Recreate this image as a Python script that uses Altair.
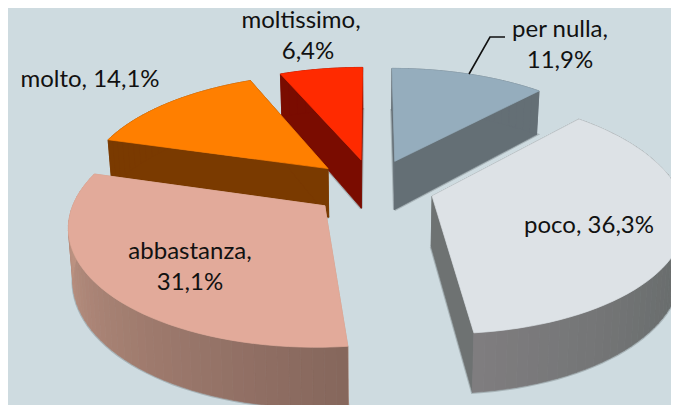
import math
import altair as alt
import pandas as pd

# Chart values
categories = ["per nulla", "poco", "abbastanza", "molto", "moltissimo"]
shares = [11.9, 36.3, 31.1, 14.1, 6.4]
top_colors = ["#95adbd", "#dde2e6", "#e2aa9a", "#ff7f00", "#ff2a00"]
cut_colors = ["#646f75", "#6e7272", "#c89c8a", "#7a3a00", "#7a0c00"]
# rim colour at the slice's start angle and at its end angle
rim_start = ["#646f75", "#6a6e6e", "#85665c", "#7a3a00", "#7a0c00"]
rim_end = ["#646f75", "#7f7d7f", "#c89c8a", "#7a3a00", "#7a0c00"]
draw_order = [4, 0, 3, 1, 2]

labels = [
    ("moltissimo,", 301, 21), ("6,4%", 308, 52),
    ("per nulla,", 560, 30), ("11,9%", 560, 61),
    ("molto, 14,1%", 90, 80),
    ("poco, 36,3%", 589, 226),
    ("abbastanza,", 190, 252), ("31,1%", 190, 283),
]
leader_x = [469, 490, 505]
leader_y = [74, 37, 37]

# Pseudo-3D projection settings (pixels of the reference picture)
CX, CY, A, B, K, DEPTH, EXPLODE, BASE = 373, 187, 246, 114, 0.15, 50, 0.25, 0.985
BACKGROUND = "#cedbe0"
SHADOW = "#a8b4b8"


def project(X, Y, bottom=False):
    s = 1 / (1 - K * Y)
    x = A * X * s
    y = CY + B * Y * s
    if bottom:
        return CX + x * BASE, y + DEPTH * s
    return CX + x, y


def mix(c1, c2, t):
    a = [int(c1[i:i + 2], 16) for i in (1, 3, 5)]
    b = [int(c2[i:i + 2], 16) for i in (1, 3, 5)]
    return "#" + "".join(f"{round(p + (q - p) * t):02x}" for p, q in zip(a, b))


rows = []
shadow_rows = []
poly_id = 0


def add(points, color, target=None):
    global poly_id
    poly_id += 1
    target = rows if target is None else target
    for n, (x, y) in enumerate(points + points[:1]):
        target.append({"poly": poly_id, "n": n, "x": x, "y": y, "c": color})


starts = []
total = 0.0
for v in shares:
    starts.append(total)
    total += v
total = sum(shares)

for i in draw_order:
    a0 = starts[i] / total * 2 * math.pi
    a1 = (starts[i] + shares[i]) / total * 2 * math.pi
    mid = (a0 + a1) / 2
    ox, oy = EXPLODE * math.sin(mid), -EXPLODE * math.cos(mid)
    steps = max(4, int(shares[i] * 1.6))
    ground = [(ox + math.sin(a0 + (a1 - a0) * k / steps),
               oy - math.cos(a0 + (a1 - a0) * k / steps)) for k in range(steps + 1)]
    apex = (ox, oy)
    add([project(*apex, True)] + [project(*g, True) for g in ground], SHADOW, shadow_rows)
    # the two cut walls
    for end in (ground[0], ground[-1]):
        add([project(*apex), project(*end), project(*end, True), project(*apex, True)], cut_colors[i])
    # the outer rim, segment by segment
    for k in range(steps):
        p, q = ground[k], ground[k + 1]
        t = min(1.0, max(0.0, (k + 0.5) / steps))
        col = mix(rim_start[i], rim_end[i], t if i != 1 else max(0.0, (t - 0.6) / 0.4))
        add([project(*p), project(*q), project(*q, True), project(*p, True)], col)
    # top face
    add([project(*apex)] + [project(*g) for g in ground], top_colors[i])

df = pd.DataFrame(rows)
xs = alt.Scale(domain=[8, 671])
ys = alt.Scale(domain=[405, 8])


def polygons(frame, width):
    return alt.Chart(frame).mark_line(filled=True, strokeWidth=width, clip=True).encode(
        x=alt.X("x:Q", scale=xs, axis=None),
        y=alt.Y("y:Q", scale=ys, axis=None),
        detail="poly:N",
        order="n:Q",
        color=alt.Color("c:N", scale=None),
        stroke=alt.Stroke("c:N", scale=None),
    )


shadow = polygons(pd.DataFrame(shadow_rows), 3)
faces = polygons(df, 0.7)

leader = alt.Chart(pd.DataFrame({"x": leader_x, "y": leader_y, "n": [0, 1, 2]})).mark_line(
    color="#111111", strokeWidth=1.6
).encode(
    x=alt.X("x:Q", scale=xs, axis=None),
    y=alt.Y("y:Q", scale=ys, axis=None),
    order="n:Q",
)

text = alt.Chart(pd.DataFrame(labels, columns=["t", "x", "y"])).mark_text(
    font="Lato", fontSize=24, color="#111111", align="center", baseline="middle"
).encode(
    x=alt.X("x:Q", scale=xs, axis=None),
    y=alt.Y("y:Q", scale=ys, axis=None),
    text="t:N",
)

chart = (shadow + faces + leader + text).properties(
    width=663, height=397, background=BACKGROUND, padding=0,
    autosize=alt.AutoSizeParams(type="none"),
).configure_view(stroke=None, fill=BACKGROUND)

chart.save("out.html", embed_options={"renderer": "svg", "actions": False})
